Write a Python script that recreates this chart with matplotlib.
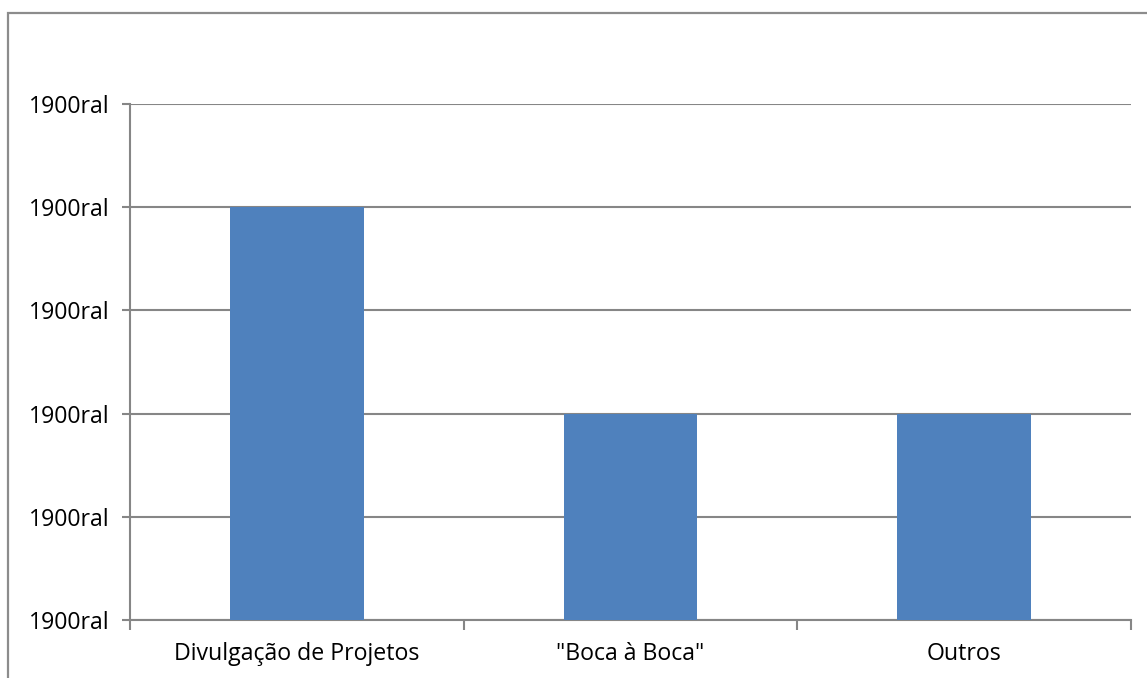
import matplotlib
matplotlib.use("Agg")
import matplotlib.pyplot as plt
from matplotlib.patches import Rectangle

categories = ["Divulgação de Projetos", "\"Boca à Boca\"", "Outros"]
values = [4, 2, 2]
y_ticks = [0, 1, 2, 3, 4, 5]
y_tick_labels = ["1900ral"] * len(y_ticks)

W, H = 1147, 678
fig = plt.figure(figsize=(W / 100, H / 100), dpi=100)
plt.rcParams["font.family"] = ["Open Sans", "DejaVu Sans"]

gray = "#868686"
fs = 16.7

# outer chart frame (left and top edges visible)
fig.patches.append(Rectangle((8 / W, -0.1), 1.2, (H - 13) / H + 0.1,
                             transform=fig.transFigure, fill=False,
                             edgecolor="#8c8c8c", linewidth=1.6))

left, right = 130 / W, 1131 / W
bottom, top = 1 - 620 / H, 1 - 104 / H
ax = fig.add_axes([left, bottom, right - left, top - bottom])

x = range(len(categories))
ax.bar(x, values, width=0.4, color="#4F81BD", zorder=3)
ax.set_xlim(-0.5, len(categories) - 0.5)
ax.set_ylim(0, 5)

ax.set_yticks(y_ticks)
ax.set_yticklabels(y_tick_labels, fontsize=fs, color="#000000")
ax.yaxis.grid(True, color=gray, linewidth=1.5, zorder=0)
ax.set_axisbelow(True)

# category ticks sit between bars
ax.set_xticks([i + 0.5 for i in range(-1, len(categories))], minor=True)
ax.set_xticks(list(x))
ax.set_xticklabels(categories, fontsize=fs)
ax.tick_params(axis="x", which="major", length=0, pad=16)
ax.tick_params(axis="x", which="minor", length=7, width=1.5, color=gray)
ax.tick_params(axis="y", length=6, width=1.5, color=gray, pad=9)

for s in ["top", "right"]:
    ax.spines[s].set_visible(False)
for s in ["left", "bottom"]:
    ax.spines[s].set_color(gray)
    ax.spines[s].set_linewidth(1.5)

fig.savefig("out.png", dpi=100)
